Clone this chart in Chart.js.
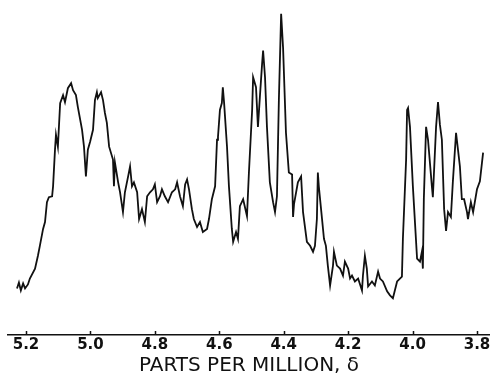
<!DOCTYPE html>
<html>
<head>
<meta charset="utf-8">
<script src="https://cdn.jsdelivr.net/npm/chart.js@4/dist/chart.umd.min.js"></script>
<style>
	html, body { margin: 0; padding: 0; background: #fff; }
	#wrap { width: 490px; height: 379px; }
</style>
</head>
<body>
<div id="wrap"><canvas id="nmrChart"></canvas></div>
<script>
// chemical shift (ppm)
var ppm = [
	5.228,5.222,5.216,5.209,5.203,5.194,5.188,5.172,5.163,5.157,
	5.147,5.141,5.135,5.129,5.119,5.116,5.110,5.107,5.101,5.094,
	5.085,5.079,5.070,5.060,5.054,5.045,5.039,5.026,5.020,5.014,
	5.008,5.001,4.992,4.986,4.980,4.977,4.967,4.961,4.955,4.949,
	4.942,4.930,4.927,4.924,4.914,4.908,4.899,4.893,4.883,4.877,
	4.871,4.865,4.855,4.849,4.840,4.831,4.824,4.815,4.806,4.800,
	4.793,4.784,4.778,4.769,4.759,4.747,4.737,4.731,4.722,4.713,
	4.706,4.700,4.694,4.685,4.679,4.669,4.660,4.651,4.638,4.632,
	4.623,4.613,4.607,4.604,4.598,4.592,4.589,4.585,4.576,4.570,
	4.561,4.557,4.548,4.542,4.536,4.526,4.514,4.508,4.498,4.495,
	4.486,4.480,4.474,4.467,4.464,4.458,4.452,4.443,4.433,4.427,
	4.421,4.415,4.408,4.402,4.393,4.384,4.374,4.371,4.368,4.356,
	4.346,4.340,4.328,4.318,4.309,4.303,4.297,4.294,4.291,4.281,
	4.275,4.269,4.263,4.256,4.247,4.244,4.235,4.225,4.216,4.210,
	4.200,4.194,4.188,4.179,4.169,4.157,4.154,4.148,4.142,4.138,
	4.126,4.117,4.107,4.101,4.092,4.079,4.070,4.061,4.048,4.033,
	4.030,4.020,4.017,4.014,4.008,3.999,3.986,3.977,3.971,3.968,
	3.965,3.958,3.952,3.940,3.937,3.927,3.921,3.915,3.909,3.902,
	3.896,3.890,3.881,3.875,3.865,3.859,3.853,3.847,3.840,3.831,
	3.828,3.819,3.812,3.800,3.791,3.781
];

// signal intensity (arbitrary units)
var intensity = [
	47,53,45,52,47,51,57,67,80,90,
	107,114,134,139,140,150,187,202,190,234,
	242,235,249,254,247,242,230,207,190,160,
	187,195,207,237,245,239,245,237,224,214,
	190,177,150,174,154,144,124,144,160,170,
	150,154,144,117,127,114,140,144,147,152,
	134,140,147,140,134,144,147,154,140,130,
	152,157,147,127,117,109,114,104,107,117,
	137,150,197,200,227,234,250,234,190,150,
	107,94,104,97,130,137,120,164,227,260,
	250,210,240,274,287,260,210,154,134,124,
	140,237,324,290,204,164,162,119,132,154,
	160,124,94,90,84,90,117,164,150,117,
	97,90,70,50,70,84,70,67,60,74,
	67,57,60,54,57,45,60,80,67,49,
	54,50,64,57,54,44,40,37,54,59,
	97,177,227,229,210,150,77,74,84,67,
	137,210,197,150,139,210,235,212,197,127,
	105,124,119,154,204,187,170,137,137,124,
	117,134,124,147,155,184
];

// x axis tick labels
var tickPpm = [5.2, 5.0, 4.8, 4.6, 4.4, 4.2, 4.0, 3.8];

var points = [];
for (var i = 0; i < ppm.length; i++) {
	points.push({ x: ppm[i], y: intensity[i] });
}

//짧은 눈금 (축 위쪽으로)
var upTicks = {
	id: 'upTicks',
	afterDraw: function (chart) {
		var sc = chart.scales.x;
		var ctx = chart.ctx;
		var y0 = chart.chartArea.bottom;
		ctx.save();
		ctx.strokeStyle = '#111';
		ctx.lineWidth = 1.5;
		ctx.beginPath();
		tickPpm.forEach(function (v) {
			var px = Math.round(sc.getPixelForValue(v)) + 0.5;
			ctx.moveTo(px, y0);
			ctx.lineTo(px, y0 - 4);
		});
		ctx.stroke();
		ctx.restore();
	}
};

new Chart(document.getElementById('nmrChart'), {
	type: 'line',
	data: {
		datasets: [{
			data: points,
			borderColor: '#111',
			borderWidth: 1.8,
			pointRadius: 0,
			tension: 0,
			fill: false
		}]
	},
	options: {
		responsive: true,
		maintainAspectRatio: false,
		animation: false,
		layout: { padding: { left: 8, right: 0, top: 0, bottom: 0 } },
		plugins: { legend: { display: false }, tooltip: { enabled: false } },
		scales: {
			x: {
				type: 'linear',
				reverse: true,
				min: 3.7596,
				max: 5.2559,
				afterBuildTicks: function (scale) {
					scale.ticks = tickPpm.map(function (v) { return { value: v }; });
				},
				afterFit: function (scale) {
					scale.paddingLeft = 0;
					scale.paddingRight = 0;
				},
				grid: { display: false, drawTicks: false },
				border: { display: true, color: '#111', width: 1.5 },
				ticks: {
					autoSkip: false,
					maxRotation: 0,
					padding: 3,
					color: '#111',
					font: { family: 'DejaVu Sans', size: 15, weight: 'bold', lineHeight: 1 },
					callback: function (v) { return Number(v).toFixed(1); }
				},
				title: {
					display: true,
					text: 'PARTS PER MILLION, δ',
					color: '#111',
					padding: { top: 0, bottom: 3 },
					font: { family: 'DejaVu Sans', size: 20, lineHeight: 1 }
				}
			},
			y: {
				display: false,
				min: 0,
				max: 338
			}
		}
	},
	plugins: [upTicks]
});
</script>
</body>
</html>
